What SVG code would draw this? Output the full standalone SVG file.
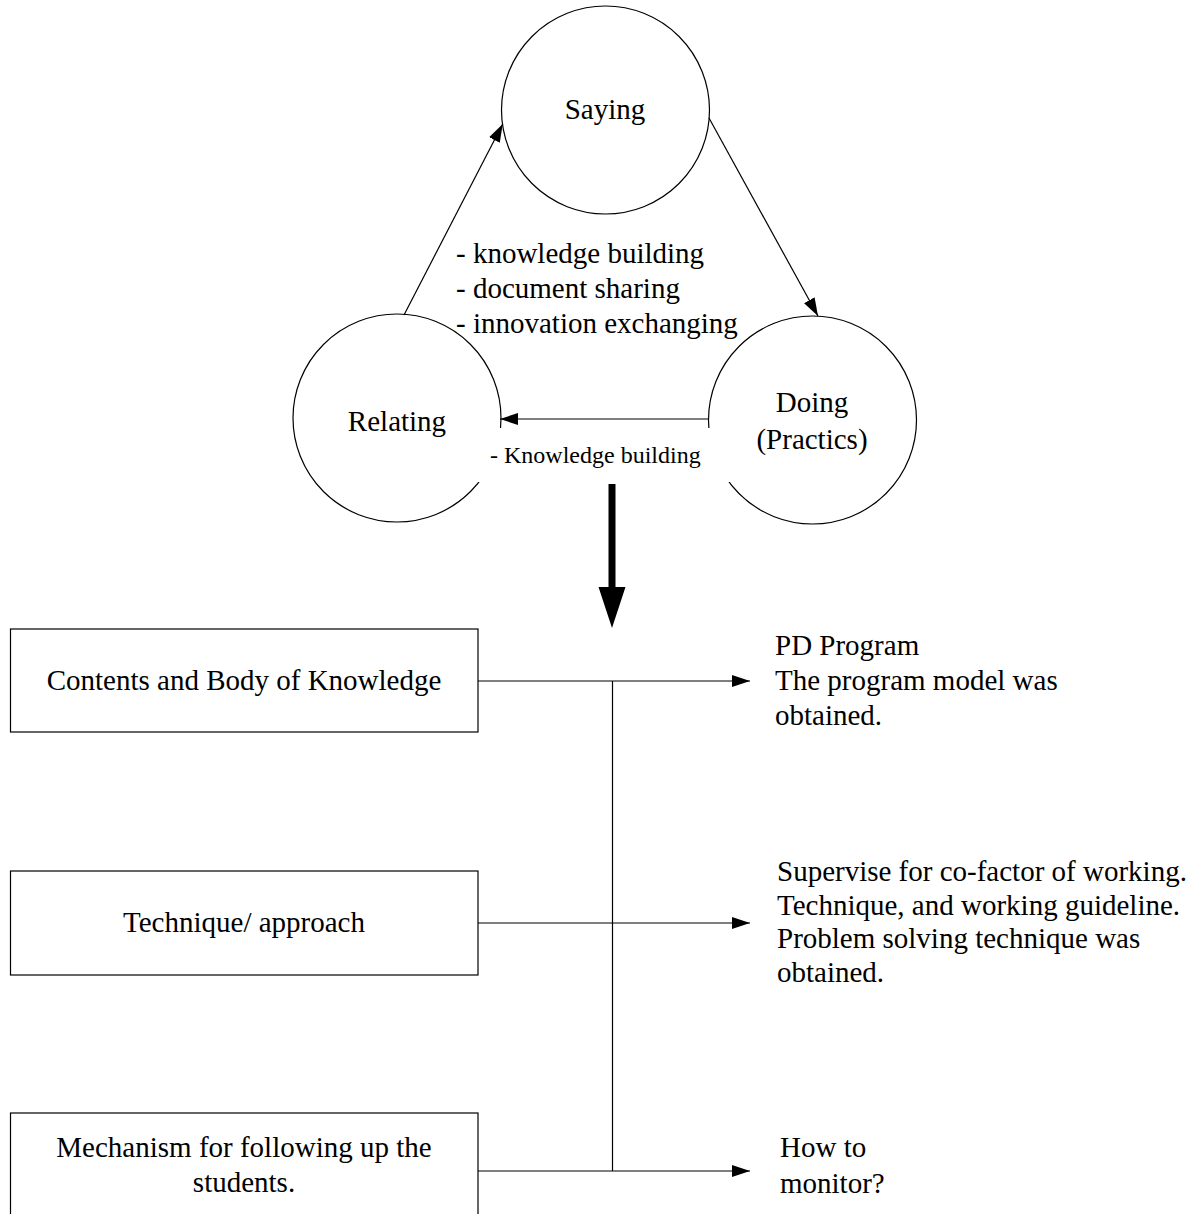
<svg xmlns="http://www.w3.org/2000/svg" width="1195" height="1214" viewBox="0 0 1195 1214">
<style>
text{font-family:"Liberation Serif","Times New Roman",serif;font-size:29px;fill:#000}
.c{text-anchor:middle}
.s{font-size:24px}
.node{fill:#fff;stroke:#000;stroke-width:1.2}
.ln{fill:none;stroke:#000;stroke-width:1.2}
</style>
<defs>
<marker id="ah" viewBox="0 0 18 12" refX="18" refY="6" markerWidth="18" markerHeight="12" markerUnits="userSpaceOnUse" orient="auto">
<path d="M0,0 L18,6 L0,12 Z" fill="#000"/>
</marker>
</defs>
<rect width="1195" height="1214" fill="#fff"/>
<g id="saying"><circle class="node" cx="605.5" cy="110" r="104"/><text class="c" x="605" y="119">Saying</text></g>
<g id="relating"><circle class="node" cx="397" cy="418" r="104"/><text class="c" x="397" y="431">Relating</text></g>
<g id="doing"><circle class="node" cx="812.5" cy="420" r="104"/><text class="c" x="812" y="412">Doing</text><text class="c" x="812" y="449">(Practics)</text></g>
<g id="connectors">
<line class="ln" x1="404" y1="315" x2="502.7" y2="124" marker-end="url(#ah)"/>
<line class="ln" x1="709" y1="118" x2="818" y2="316" marker-end="url(#ah)"/>
<line class="ln" x1="709" y1="419" x2="500" y2="419" marker-end="url(#ah)"/>
<line class="ln" x1="478" y1="681" x2="750" y2="681" marker-end="url(#ah)"/>
<line class="ln" x1="478" y1="923" x2="750" y2="923" marker-end="url(#ah)"/>
<line class="ln" x1="478" y1="1171" x2="750" y2="1171" marker-end="url(#ah)"/>
<line class="ln" x1="612.5" y1="681" x2="612.5" y2="1171"/>
<path d="M608.5,484 L615.5,484 L615.5,587 L625.5,587 L612,628 L598.5,587 L608.5,587 Z" fill="#000"/>
</g>
<g id="label-triangle">
<text x="456" y="263">- knowledge building</text>
<text x="456" y="298">- document sharing</text>
<text x="456" y="333">- innovation exchanging</text>
</g>
<g id="label-kb">
<rect x="470" y="428" width="265" height="54" fill="#fff"/>
<text x="490" y="463" class="s">- Knowledge building</text>
</g>
<g id="box1"><rect class="node" x="10.5" y="629" width="467.5" height="103"/><text class="c" x="244" y="690">Contents and Body of Knowledge</text></g>
<g id="box2"><rect class="node" x="10.5" y="871" width="467.5" height="104"/><text class="c" x="244" y="932">Technique/ approach</text></g>
<g id="box3"><rect class="node" x="10.5" y="1113" width="467.5" height="110"/><text class="c" x="244" y="1157">Mechanism for following up the</text><text class="c" x="244" y="1192">students.</text></g>
<g id="out1"><text x="775" y="655">PD Program</text><text x="775" y="690">The program model was</text><text x="775" y="725">obtained.</text></g>
<g id="out2"><text x="777" y="881">Supervise for co-factor of working.</text><text x="777" y="914.5">Technique, and working guideline.</text><text x="777" y="948">Problem solving technique was</text><text x="777" y="981.5">obtained.</text></g>
<g id="out3"><text x="780" y="1157">How to</text><text x="780" y="1193">monitor?</text></g>
</svg>
